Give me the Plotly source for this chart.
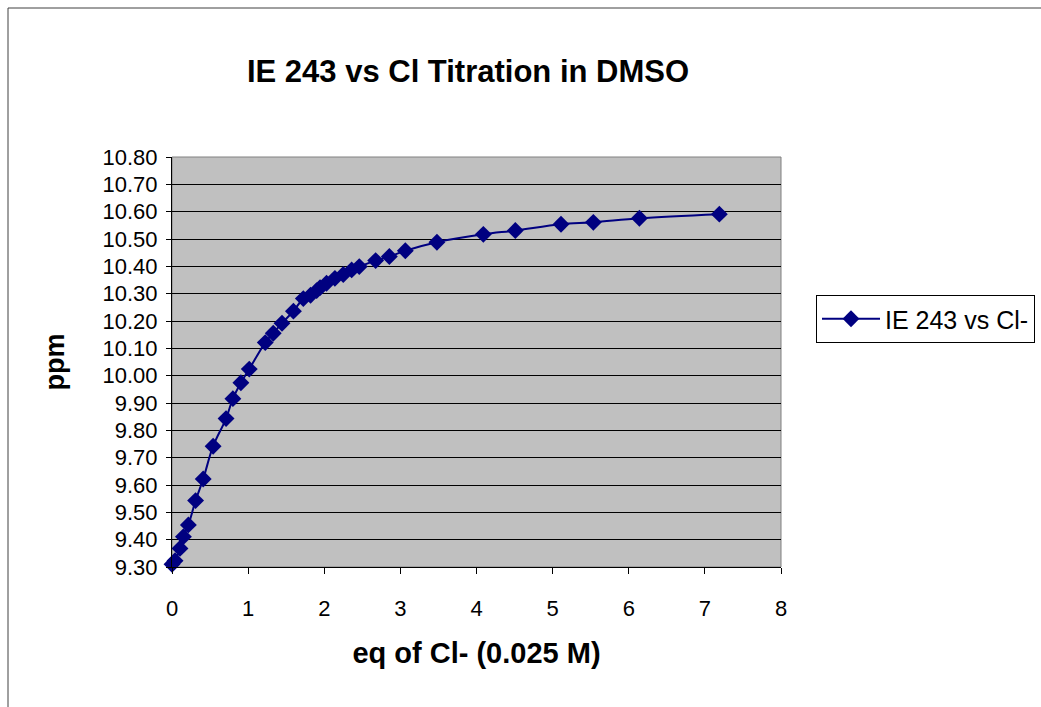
import plotly.graph_objects as go

eq_cl = [0.0, 0.04, 0.105, 0.15, 0.215, 0.31, 0.41, 0.54, 0.71, 0.80, 0.905, 1.015,
         1.225, 1.33, 1.445, 1.595, 1.725, 1.82, 1.90, 1.945, 2.03, 2.14, 2.25, 2.36,
         2.46, 2.675, 2.855, 3.065, 3.48, 4.09, 4.51, 5.11, 5.535, 6.14, 7.19]
ppm = [9.31, 9.323, 9.368, 9.411, 9.454, 9.543, 9.622, 9.742, 9.843, 9.916, 9.974, 10.024,
       10.121, 10.155, 10.192, 10.236, 10.282, 10.294, 10.311, 10.322, 10.338, 10.356, 10.370, 10.387,
       10.399, 10.421, 10.436, 10.457, 10.488, 10.517, 10.531, 10.554, 10.561, 10.576, 10.591]

series_name = "IE 243 vs Cl-"
title_text = "IE 243 vs Cl Titration in DMSO"
x_title = "eq of Cl- (0.025 M)"
y_title = "ppm"

navy = "#000080"
font = "Liberation Sans, Arial, sans-serif"

fig = go.Figure()
fig.add_trace(go.Scatter(
    x=eq_cl, y=ppm, mode="lines+markers", name=series_name,
    line=dict(color=navy, width=2, shape="spline", smoothing=1),
    marker=dict(symbol="diamond", size=13, color=navy),
    cliponaxis=False,
))

W, H = 1041, 707
L, R, T, B = 172, 781, 157, 567
pw, ph = R - L, B - T

def px(x):
    return (x - L) / pw

def py(y):
    return 1 - (y - T) / ph

fig.update_layout(
    width=W, height=H,
    margin=dict(l=L, r=W - R, t=T, b=H - B, autoexpand=False),
    paper_bgcolor="white", plot_bgcolor="#C0C0C0",
    font=dict(family=font, color="black"),
    title=dict(text="<b>" + title_text + "</b>", x=px(468), xref="paper", xanchor="center",
               y=1 - 71 / H, yanchor="middle", font=dict(size=31, family=font)),
    showlegend=True,
    legend=dict(x=px(816), y=py(295), xanchor="left", yanchor="top",
                bordercolor="black", borderwidth=1, bgcolor="white",
                font=dict(size=25, family=font), itemwidth=58, tracegroupgap=0),
    xaxis=dict(range=[0, 8], dtick=1, tick0=0, showgrid=False, zeroline=False,
               showline=True, linecolor="black", linewidth=1,
               ticks="outside", ticklen=6, tickcolor="black",
               ticklabelstandoff=16, tickfont=dict(size=22, family=font),
               title=dict(text="<b>" + x_title + "</b>", font=dict(size=29, family=font), standoff=22)),
    yaxis=dict(range=[9.30, 10.80], dtick=0.1, tick0=9.3, tickformat=".2f",
               showgrid=True, gridcolor="black", gridwidth=1, zeroline=False,
               showline=True, linecolor="black", linewidth=1,
               ticks="outside", ticklen=5, tickcolor="black",
               ticklabelstandoff=4, tickfont=dict(size=22, family=font),
               title=dict(text="<b>" + y_title + "</b>", font=dict(size=27, family=font), standoff=30)),
    shapes=[
        dict(type="rect", xref="paper", yref="paper", x0=0, x1=1, y0=0, y1=1,
             line=dict(color="#808080", width=1), layer="below"),
        dict(type="rect", xref="paper", yref="paper", x0=px(8), x1=px(1200), y0=py(900), y1=py(8),
             line=dict(color="#404040", width=1)),
    ],
)

fig.write_html("out.html")
